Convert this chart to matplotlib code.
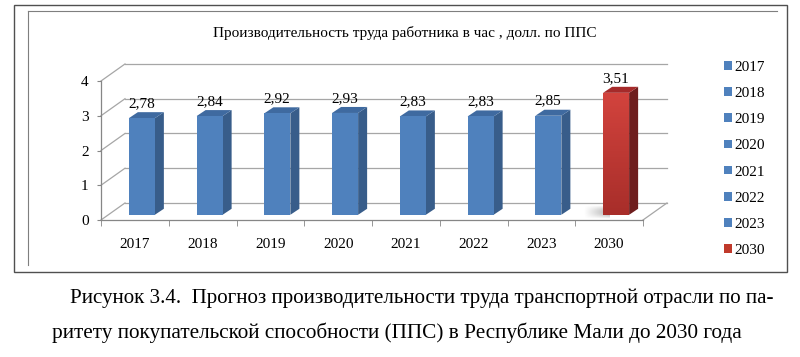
import matplotlib.pyplot as plt
import numpy as np
from matplotlib.patches import Polygon, Rectangle, Patch
from matplotlib.lines import Line2D
from matplotlib.colors import LinearSegmentedColormap

plt.rcParams['font.family'] = ['Liberation Serif', 'DejaVu Serif']

years = ['2017', '2018', '2019', '2020', '2021', '2022', '2023', '2030']
values = [2.78, 2.84, 2.92, 2.93, 2.83, 2.83, 2.85, 3.51]
labels = ['2,78', '2,84', '2,92', '2,93', '2,83', '2,83', '2,85', '3,51']
yticks = [0, 1, 2, 3, 4]

title = 'Производительность труда работника в час , долл. по ППС'
caption1 = 'Рисунок 3.4.  Прогноз производительности труда транспортной отрасли по па-'
caption2 = 'ритету покупательской способности (ППС) в Республике Мали до 2030 года'

blue = ('#4F81BD', '#385D8A', '#3F6AA0')   # front, side, top
red = ('#C0392B', '#6E1D1D', '#A52A2A')

# pseudo 3d offsets (data units)
DX, DY = 0.354, 0.49      # back wall
BX0, BX1 = -0.089, 0.295  # bar front face left/right
BY = 0.15                 # bar front lift
DDX, DDY = 0.133, 0.173   # bar depth

fig = plt.figure(figsize=(8, 3.57), dpi=100)
W, H = 800, 357

# frames
fig.add_artist(Rectangle((14 / W, 1 - 272 / H), 773 / W, 267 / H, transform=fig.transFigure,
                         fill=False, ec='#505050', lw=1.0))
fig.add_artist(Line2D([28 / W, 28 / W], [1 - 265 / H, 1 - 11 / H], transform=fig.transFigure,
                      color='#7f7f7f', lw=0.8))
fig.add_artist(Line2D([28 / W, 777 / W], [1 - 11 / H, 1 - 11 / H], transform=fig.transFigure,
                      color='#7f7f7f', lw=0.8))

fig.text(405 / W, 1 - 33 / H, title, ha='center', va='center', fontsize=11)

ax = fig.add_axes([101 / W, 1 - 220 / H, 542 / W, 139 / H])
n = len(years)
ax.patch.set_visible(False)
for s in ['top', 'right']:
    ax.spines[s].set_visible(False)
for s in ['left', 'bottom']:
    ax.spines[s].set_color('#868686')
    ax.spines[s].set_linewidth(0.9)

ax.set_yticks(yticks)
ax.set_yticklabels([str(t) for t in yticks], fontsize=11)
ax.tick_params(axis='y', length=3, color='#868686', pad=6)
ax.set_xticks(np.arange(n))
ax.set_xticklabels(years, fontsize=11)
ax.set_xticks(np.arange(n + 1) - 0.5, minor=True)
ax.tick_params(axis='x', which='major', length=0, pad=13)
ax.tick_params(axis='x', which='minor', length=4, color='#868686')

grid_c = '#a6a6a6'
x_left, x_right = -0.5, n - 0.5
for t in yticks:
    ax.plot([x_left + DX, x_right + DX], [t + DY, t + DY], color=grid_c, lw=0.9, clip_on=False, zorder=1)
    ax.plot([x_left, x_left + DX], [t, t + DY], color=grid_c, lw=0.9, clip_on=False, zorder=1)
ax.plot([x_right, x_right + DX], [0, DY], color=grid_c, lw=0.9, clip_on=False, zorder=1)

for i, (v, lab) in enumerate(zip(values, labels)):
    last = i == n - 1
    front, side, top = red if last else blue
    x0, x1 = i + BX0, i + BX1
    y0, y1 = BY, v + BY
    if last:
        # soft floor shadow
        sh = np.zeros((20, 40, 4))
        sh[..., :3] = 0.45
        a = np.linspace(0, 1, 40)[None, :] * np.sin(np.linspace(0, np.pi, 20))[:, None]
        sh[..., 3] = 0.55 * a
        ax.imshow(sh, extent=(x0 - 0.28, x0 + 0.1, 0.02, 0.42), aspect='auto', zorder=2,
                  interpolation='bilinear')
    ax.add_patch(Polygon([(x1, y0), (x1 + DDX, y0 + DDY), (x1 + DDX, y1 + DDY), (x1, y1)],
                         closed=True, fc=side, ec='none', clip_on=False, zorder=3))
    ax.add_patch(Polygon([(x0, y1), (x1, y1), (x1 + DDX, y1 + DDY), (x0 + DDX, y1 + DDY)],
                         closed=True, fc=top, ec='none', clip_on=False, zorder=3))
    fp = Polygon([(x0, y0), (x1, y0), (x1, y1), (x0, y1)], closed=True, fc=front,
                 ec='none', clip_on=False, zorder=3)
    ax.add_patch(fp)
    if last:
        grad = np.linspace(1, 0, 50).reshape(-1, 1)
        cmap = LinearSegmentedColormap.from_list('r', ['#A82E2A', '#D2433D'])
        im = ax.imshow(grad, extent=(x0, x1, y0, y1), cmap=cmap, aspect='auto', zorder=4,
                       origin='upper')
        im.set_clip_path(fp)
    ax.text(i + 0.1, v + 0.57, lab, ha='center', va='center', fontsize=11, zorder=5)
ax.set_xlim(-0.5, n - 0.5)
ax.set_ylim(0, 4)

handles = [Patch(fc=red[0] if i == n - 1 else blue[0], ec='none') for i in range(n)]
fig.legend(handles, years, loc='upper left', bbox_to_anchor=(724 / W, 1 - 61 / H),
           frameon=False, fontsize=11, handlelength=0.5, handleheight=0.5,
           handletextpad=0.15, labelspacing=0.86, borderpad=0, borderaxespad=0)

fig.text(70 / W, 1 - 298 / H, caption1, ha='left', va='center', fontsize=15.1)
fig.text(52 / W, 1 - 333 / H, caption2, ha='left', va='center', fontsize=15.3)

fig.savefig('out.png', dpi=100)
